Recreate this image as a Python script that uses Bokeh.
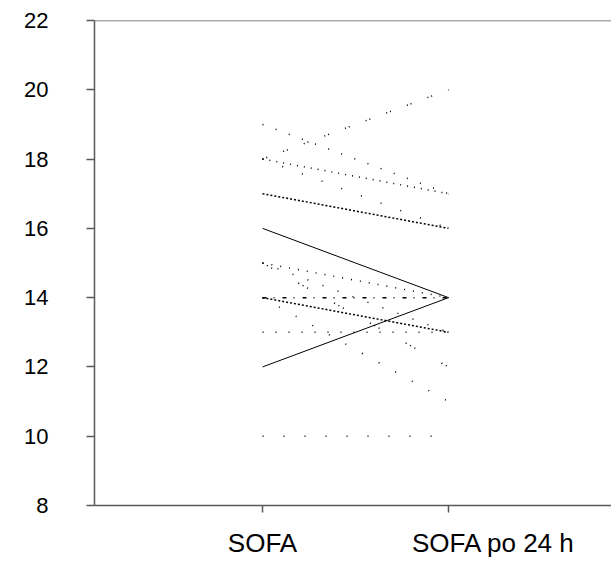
from bokeh.plotting import figure
from bokeh.models import FixedTicker, Range1d, Span, CustomJSTickFormatter
from bokeh.embed import file_html
from bokeh.resources import INLINE

# ---- data ----
categories = ["SOFA", "SOFA po 24 h"]
cat_pos = [1, 2]
sofa_before = [19, 18, 18, 18, 17, 16, 15, 15, 15, 14, 14, 14, 13, 12, 10]
sofa_after = [17, 20, 17, 16, 16, 14, 14, 13, 12, 14, 13, 11, 13, 14, 10]
y_ticks = [8, 10, 12, 14, 16, 18, 20, 22]

# ---- styles (one dash pattern per patient line) ----
dash_styles = ["1 13", "1 3 1 17", "1 6", "1 20", "2 2", "solid", "1 8", "1 15",
               "1 4 1 4 1 30", "4 7 1 8", "2 2", "1 18", "1 12", "solid", "1 20"]

AX = "#595959"
FONT = "Liberation Sans"
PX_PER_UNIT = 186.0
LABEL_OFFSET_PX = [0, 45]  # horizontal offset of each category name from its tick

p = figure(width=611, height=561, output_backend="svg", toolbar_location=None,
           x_range=Range1d(0.0968, 2.876), y_range=Range1d(8, 22),
           min_border_left=94, min_border_right=0, min_border_top=20,
           min_border_bottom=56)
p.outline_line_color = None
p.xgrid.grid_line_color = None
p.ygrid.grid_line_color = None
p.background_fill_color = "white"

for b, a, d in zip(sofa_before, sofa_after, dash_styles):
    p.line(cat_pos, [b, a], line_color="black",
           line_width=1.0 if d == "solid" else 1.5, line_dash=d)

# y axis
ya = p.yaxis[0]
ya.ticker = FixedTicker(ticks=y_ticks)
ya.axis_line_color = AX
ya.axis_line_width = 1.5
ya.major_tick_line_color = AX
ya.major_tick_line_width = 1.5
ya.major_tick_out = 8
ya.major_tick_in = 0
ya.minor_tick_line_color = None
ya.major_label_text_font = FONT
ya.major_label_text_font_size = "22px"
ya.major_label_text_color = "black"
ya.major_label_standoff = 38

# x axis: category marks as (minor) ticks, names placed as in the original
xa = p.xaxis[0]
label_anchor = [c + o / PX_PER_UNIT for c, o in zip(cat_pos, LABEL_OFFSET_PX)]
xa.ticker = FixedTicker(ticks=label_anchor, minor_ticks=cat_pos)
xa.formatter = CustomJSTickFormatter(args=dict(names=categories), code="return names[index];")
xa.axis_line_color = AX
xa.axis_line_width = 1.5
xa.major_tick_line_color = None
xa.major_tick_out = 7
xa.major_tick_in = 0
xa.minor_tick_line_color = AX
xa.minor_tick_line_width = 1.5
xa.minor_tick_out = 7
xa.minor_tick_in = 0
xa.major_label_text_font = FONT
xa.major_label_text_font_size = "26px"
xa.major_label_text_color = "black"
xa.major_label_standoff = 15

# top frame line
p.add_layout(Span(location=y_ticks[-1], dimension="width", line_color=AX, line_width=1.5))

open("out.html", "w").write(file_html(p, INLINE))
